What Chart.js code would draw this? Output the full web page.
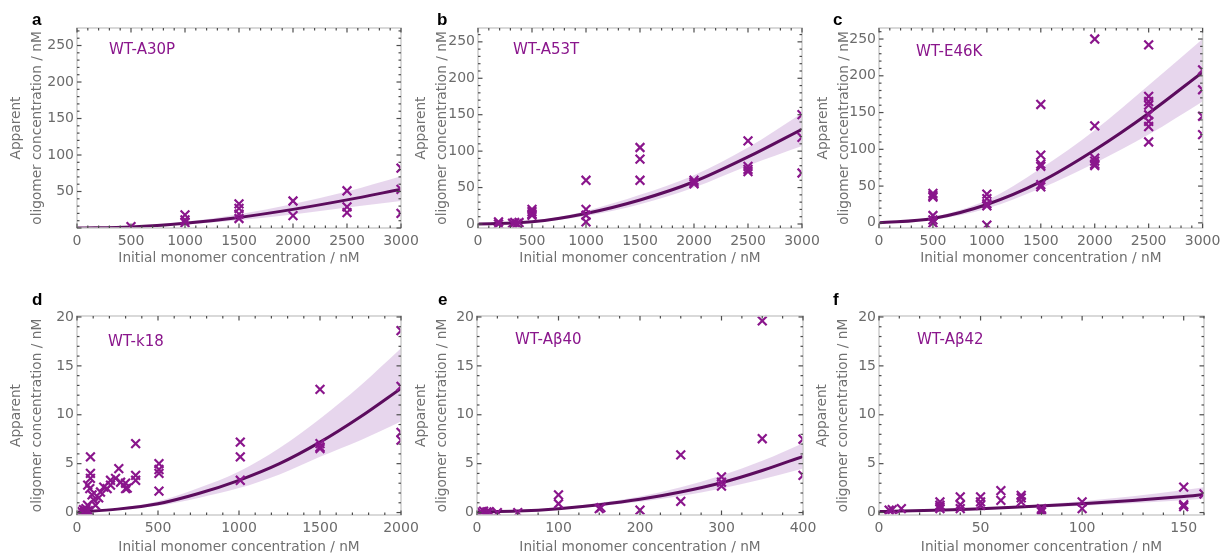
<!DOCTYPE html>
<html lang="en">
<head>
<meta charset="UTF-8">
<title>Apparent oligomer concentration vs initial monomer concentration</title>
<script src="https://cdn.jsdelivr.net/npm/chart.js@4.4.1/dist/chart.umd.min.js"></script>
<style>
    html, body { margin: 0; padding: 0; background: #fff; }
    body { width: 1220px; height: 557px; position: relative; overflow: hidden; }
    canvas { position: absolute; }
</style>
</head>
<body>
<canvas id="cA"></canvas>
<canvas id="cB"></canvas>
<canvas id="cC"></canvas>
<canvas id="cD"></canvas>
<canvas id="cE"></canvas>
<canvas id="cF"></canvas>

<script>
    // ---- tick labels ----
    const ticksMonomer3000 = [0, 500, 1000, 1500, 2000, 2500, 3000];
    const ticksMonomer2000 = [0, 500, 1000, 1500, 2000];
    const ticksMonomer400 = [0, 100, 200, 300, 400];
    const ticksMonomer160 = [0, 50, 100, 150];
    const ticksOligoTopA = [50, 100, 150, 200, 250];
    const ticksOligoTop = [0, 50, 100, 150, 200, 250];
    const ticksOligoBottom = [0, 5, 10, 15, 20];

    // ---- a: WT-A30P ----
    const aX = [500, 1000, 1000, 1000, 1500, 1500, 1500, 1500, 2000, 2000, 2500, 2500, 2500, 3000, 3000, 3000];
    const aY = [2, 18, 11, 7.5, 33, 27, 19, 13, 37, 17, 51, 29, 21, 82, 53, 20];
    const aFitX = [0, 500, 1000, 1500, 2000, 2500, 3000];
    const aFit = [0, 1.5, 6.5, 14.5, 25.5, 38.5, 53];
    const aUpper = [0, 2, 8.5, 19, 33, 50, 71];
    const aLower = [0, 1.1, 4.8, 10.5, 18.5, 28, 37];

    // ---- b: WT-A53T ----
    const bX = [190, 190, 320, 340, 360, 380, 500, 500, 500, 500, 1000, 1000, 1000, 1000, 1500, 1500, 1500, 2000, 2000, 2000, 2500, 2500, 2500, 2500, 3000, 3000, 3000];
    const bY = [3, 0, 1, 2, 0.5, 2, 20, 17, 14, 12, 60, 20, 12, 3, 105, 89, 60, 60, 57, 55, 114, 79, 75, 72, 150, 119, 70];
    const bFitX = [0, 500, 1000, 1500, 2000, 2500, 3000];
    const bFit = [0, 3, 14.5, 33, 58, 92, 130];
    const bUpper = [0, 4, 18, 40, 67, 105, 152];
    const bLower = [0, 2, 11, 27, 50, 80, 107];

    // ---- c: WT-E46K ----
    const cX = [500, 500, 500, 500, 500, 500, 1000, 1000, 1000, 1000, 1000, 1500, 1500, 1500, 1500, 1500, 1500, 2000, 2000, 2000, 2000, 2000, 2000, 2500, 2500, 2500, 2500, 2500, 2500, 2500, 2500, 3000, 3000, 3000, 3000];
    const cY = [40, 37, 35, 10, 4, 0, 39, 33, 26, 23, -3, 161, 92, 80, 77, 52, 49, 250, 132, 88, 84, 80, 78, 242, 172, 165, 160, 147, 138, 131, 110, 208, 181, 145, 120];
    const cFitX = [0, 500, 1000, 1500, 2000, 2500, 3000];
    const cFit = [0, 6, 25, 56, 99, 149, 205];
    const cUpper = [0, 8, 31, 74, 126, 187, 250];
    const cLower = [0, 4, 19.5, 47, 81, 120, 165];

    // ---- d: WT-k18 ----
    const dX = [30, 40, 45, 50, 55, 60, 65, 66, 70, 79, 83, 83, 83, 93, 103, 114, 134, 145, 165, 186, 207, 207, 238, 258, 269, 300, 300, 310, 362, 362, 362, 506, 506, 506, 506, 1008, 1008, 1008, 1500, 1500, 1500, 1500, 2000, 2000, 2000, 2000];
    const dY = [0.1, 0.3, 0, 0.2, 0.4, 0.1, 0.75, 2.8, 0.2, 2.45, 5.7, 4.0, 3.5, 1.8, 1.3, 0.75, 1.5, 2.1, 2.6, 2.45, 3.3, 2.8, 3.5, 4.5, 3.1, 3.0, 2.45, 2.5, 7.05, 3.8, 3.3, 5.0, 4.4, 4.0, 2.2, 7.2, 5.7, 3.3, 12.6, 7.05, 6.7, 6.55, 18.6, 12.9, 8.2, 7.4];
    const dFitX = [0, 250, 500, 750, 1000, 1250, 1500, 1750, 2000];
    const dFit = [0.05, 0.35, 0.9, 1.95, 3.3, 5.0, 7.2, 9.8, 12.7];
    const dUpper = [0.05, 0.45, 1.15, 2.5, 4.2, 6.6, 9.6, 13, 16.8];
    const dLower = [0.05, 0.3, 0.7, 1.5, 2.5, 3.9, 5.7, 7.4, 9.3];

    // ---- e: WT-Aβ40 ----
    const eX = [5, 8, 12, 15, 25, 50, 100, 100, 150, 152, 200, 250, 250, 300, 300, 300, 350, 350, 400, 400];
    const eY = [0.07, 0.14, 0.07, 0.1, 0, 0, 1.8, 0.9, 0.4, 0.5, 0.25, 5.9, 1.15, 3.65, 3.1, 2.7, 19.6, 7.55, 7.5, 3.8];
    const eFitX = [0, 50, 100, 150, 200, 250, 300, 350, 400];
    const eFit = [0.05, 0.15, 0.4, 0.8, 1.35, 2.1, 3.05, 4.3, 5.75];
    const eUpper = [0.05, 0.18, 0.5, 1.0, 1.65, 2.6, 3.8, 5.3, 7.1];
    const eLower = [0.05, 0.12, 0.32, 0.65, 1.1, 1.7, 2.45, 3.4, 4.5];

    // ---- f: WT-Aβ42 ----
    const fX = [5, 6.5, 11, 30, 30, 30, 30, 40, 40, 40, 50, 50, 50, 60, 60, 70, 70, 70, 80, 80, 80, 100, 100, 150, 150, 150, 160];
    const fY = [0.24, 0.3, 0.4, 1.1, 0.75, 0.58, 0.4, 1.6, 0.8, 0.4, 1.6, 1.1, 0.75, 2.25, 1.25, 1.75, 1.5, 1.1, 0.4, 0.24, 0.07, 1.1, 0.4, 2.6, 0.8, 0.6, 1.9];
    const fFitX = [0, 50, 100, 150, 160];
    const fFit = [0.1, 0.4, 0.9, 1.65, 1.85];
    const fUpper = [0.1, 0.5, 1.15, 2.3, 2.6];
    const fLower = [0.1, 0.3, 0.7, 1.25, 1.4];

    const FONT = 'DejaVu Sans';
    const MARK = '#8a168c';
    const CURVE = '#5c0c5e';
    const BAND = 'rgba(176,120,196,0.3)';
    const TICK_TEXT = '#6b6b6b';
    const TITLE_TEXT = '#707070';

    // layout of the six panels (canvas box + axis sizes)
    const panels = [
        {id: 'cA', letter: 'a', name: 'WT-A30P', x: aX, y: aY, fitX: aFitX, fit: aFit, up: aUpper, lo: aLower,
         xMin: 0, xMax: 3000, yMin: 0, yMax: 274, xTicks: ticksMonomer3000, yTicks: ticksOligoTopA, xMinor: 100, yMinor: 10,
         left: 0, top: 0, width: 425, height: 275, yw: 77, xh: 47, padTop: 28, padRight: 24,
         ytPad: 5.4, xtPad: 8.8, letterX: 32, letterY: 25, nameDx: 32, nameDy: 22},
        {id: 'cB', letter: 'b', name: 'WT-A53T', x: bX, y: bY, fitX: bFitX, fit: bFit, up: bUpper, lo: bLower,
         xMin: 0, xMax: 3000, yMin: -5.5, yMax: 269, xTicks: ticksMonomer3000, yTicks: ticksOligoTop, xMinor: 100, yMinor: 10,
         left: 400, top: 0, width: 425, height: 275, yw: 78, xh: 47, padTop: 28, padRight: 23,
         ytPad: 10.4, xtPad: 8.8, letterX: 37, letterY: 25, nameDx: 35, nameDy: 22},
        {id: 'cC', letter: 'c', name: 'WT-E46K', x: cX, y: cY, fitX: cFitX, fit: cFit, up: cUpper, lo: cLower,
         xMin: 0, xMax: 3000, yMin: -7, yMax: 265, xTicks: ticksMonomer3000, yTicks: ticksOligoTop, xMinor: 100, yMinor: 10,
         left: 805, top: 0, width: 420, height: 275, yw: 74, xh: 47, padTop: 28, padRight: 21,
         ytPad: 7.4, xtPad: 8.8, letterX: 28, letterY: 25, nameDx: 37, nameDy: 24},
        {id: 'cD', letter: 'd', name: 'WT-k18', x: dX, y: dY, fitX: dFitX, fit: dFit, up: dUpper, lo: dLower,
         xMin: 0, xMax: 2000, yMin: -0.25, yMax: 20.1, xTicks: ticksMonomer2000, yTicks: ticksOligoBottom, xMinor: 100, yMinor: 1,
         left: 0, top: 275, width: 425, height: 282, yw: 77, xh: 42, padTop: 41, padRight: 24,
         ytPad: 5.4, xtPad: 1.8, letterX: 32, letterY: 30, nameDx: 31, nameDy: 26},
        {id: 'cE', letter: 'e', name: 'WT-A\u03b240', x: eX, y: eY, fitX: eFitX, fit: eFit, up: eUpper, lo: eLower,
         xMin: 0, xMax: 400, yMin: -0.25, yMax: 20.1, xTicks: ticksMonomer400, yTicks: ticksOligoBottom, xMinor: 25, yMinor: 1,
         left: 400, top: 275, width: 425, height: 282, yw: 77, xh: 42, padTop: 41, padRight: 22,
         ytPad: 10.4, xtPad: 1.8, letterX: 38, letterY: 30, nameDx: 38, nameDy: 24},
        {id: 'cF', letter: 'f', name: 'WT-A\u03b242', x: fX, y: fY, fitX: fFitX, fit: fFit, up: fUpper, lo: fLower,
         xMin: 0, xMax: 160, yMin: -0.25, yMax: 20.1, xTicks: ticksMonomer160, yTicks: ticksOligoBottom, xMinor: 10, yMinor: 1,
         left: 805, top: 275, width: 420, height: 282, yw: 74, xh: 42, padTop: 41, padRight: 21,
         ytPad: 6.4, xtPad: 1.8, letterX: 28, letterY: 30, nameDx: 38, nameDy: 24}
    ];

    // frame with inward ticks on all four sides, panel letter and series name
    const framePlugin = {
        id: 'frame',
        afterDraw(chart) {
            const p = chart.config.options.plugins.frame.panel;
            const {ctx, chartArea: a} = chart;
            const sx = chart.scales.x, sy = chart.scales.y;
            ctx.save();
            ctx.strokeStyle = '#cdcdcd';
            ctx.lineWidth = 1.5;
            ctx.strokeRect(a.left, a.top, a.right - a.left, a.bottom - a.top);

            ctx.strokeStyle = '#4d4d4d';
            ctx.lineWidth = 1.2;
            function seg(x1, y1, x2, y2) {
                ctx.beginPath(); ctx.moveTo(x1, y1); ctx.lineTo(x2, y2); ctx.stroke();
            }
            function isMajor(v, arr) {
                return arr.some(t => Math.abs(t - v) < 1e-6) || Math.abs(v) < 1e-6;
            }
            let start = Math.ceil(sx.min / p.xMinor);
            for (let i = start; i * p.xMinor <= sx.max + 1e-9; i++) {
                const v = i * p.xMinor;
                const px = sx.getPixelForValue(v);
                const len = isMajor(v, p.xTicks) ? 4.5 : 2.5;
                seg(px, a.bottom, px, a.bottom - len);
                seg(px, a.top, px, a.top + len);
            }
            start = Math.ceil(sy.min / p.yMinor);
            for (let i = start; i * p.yMinor <= sy.max + 1e-9; i++) {
                const v = i * p.yMinor;
                const py = sy.getPixelForValue(v);
                const len = isMajor(v, p.yTicks) ? 4.5 : 2.5;
                seg(a.left, py, a.left + len, py);
                seg(a.right, py, a.right - len, py);
            }

            ctx.fillStyle = '#000';
            ctx.font = 'bold 17px "Liberation Sans"';
            ctx.textBaseline = 'alphabetic';
            ctx.textAlign = 'left';
            ctx.fillText(p.letter, p.letterX, p.letterY);

            ctx.fillStyle = MARK;
            ctx.font = '15px "' + FONT + '"';
            ctx.textBaseline = 'middle';
            ctx.fillText(p.name, a.left + p.nameDx, a.top + p.nameDy);
            ctx.restore();
        }
    };

    function toPoints(xs, ys) {
        return xs.map((v, i) => ({x: v, y: ys[i]}));
    }

    function makeChart(p) {
        const canvas = document.getElementById(p.id);
        canvas.width = p.width;
        canvas.height = p.height;
        canvas.style.left = p.left + 'px';
        canvas.style.top = p.top + 'px';

        const fmt = v => String(v);

        return new Chart(canvas, {
            type: 'scatter',
            data: {
                datasets: [
                    {   // measurements
                        data: toPoints(p.x, p.y),
                        pointStyle: 'crossRot',
                        pointRadius: 6.2,
                        borderWidth: 2.2,
                        borderColor: MARK,
                        backgroundColor: MARK
                    },
                    {   // fit
                        data: toPoints(p.fitX, p.fit),
                        showLine: true,
                        pointRadius: 0,
                        borderColor: CURVE,
                        borderWidth: 3,
                        cubicInterpolationMode: 'monotone'
                    },
                    {   // confidence band upper edge, filled down to lower edge
                        data: toPoints(p.fitX, p.up),
                        showLine: true,
                        pointRadius: 0,
                        borderWidth: 0,
                        borderColor: 'rgba(0,0,0,0)',
                        backgroundColor: BAND,
                        fill: '+1',
                        cubicInterpolationMode: 'monotone'
                    },
                    {
                        data: toPoints(p.fitX, p.lo),
                        showLine: true,
                        pointRadius: 0,
                        borderWidth: 0,
                        borderColor: 'rgba(0,0,0,0)',
                        fill: false,
                        cubicInterpolationMode: 'monotone'
                    }
                ]
            },
            options: {
                responsive: false,
                animation: false,
                events: [],
                layout: {padding: {top: p.padTop, right: p.padRight, left: 0, bottom: 0}},
                plugins: {
                    legend: {display: false},
                    tooltip: {enabled: false},
                    frame: {panel: p}
                },
                scales: {
                    x: {
                        type: 'linear',
                        min: p.xMin,
                        max: p.xMax,
                        afterBuildTicks: s => { s.ticks = p.xTicks.map(v => ({value: v})); },
                        afterFit: s => { s.height = p.xh; },
                        grid: {display: false, drawTicks: false},
                        border: {display: false},
                        ticks: {
                            color: TICK_TEXT, font: {family: FONT, size: 14},
                            padding: 4.6, maxRotation: 0, autoSkip: false, callback: fmt
                        },
                        title: {
                            display: true,
                            text: 'Initial monomer concentration / nM',
                            color: TITLE_TEXT,
                            font: {family: FONT, size: 13.7, lineHeight: 1.2},
                            padding: {top: 0, bottom: p.xtPad}
                        }
                    },
                    y: {
                        type: 'linear',
                        min: p.yMin,
                        max: p.yMax,
                        afterBuildTicks: s => { s.ticks = p.yTicks.map(v => ({value: v})); },
                        afterFit: s => { s.width = p.yw; },
                        grid: {display: false, drawTicks: false},
                        border: {display: false},
                        ticks: {
                            color: TICK_TEXT, font: {family: FONT, size: 14},
                            padding: 3, autoSkip: false, callback: fmt
                        },
                        title: {
                            display: true,
                            text: ['Apparent', 'oligomer concentration / nM'],
                            color: TITLE_TEXT,
                            font: {family: FONT, size: 13.7, lineHeight: 1.55},
                            padding: {top: p.ytPad, bottom: 0}
                        }
                    }
                }
            },
            plugins: [framePlugin]
        });
    }

    panels.forEach(makeChart);
</script>
</body>
</html>
